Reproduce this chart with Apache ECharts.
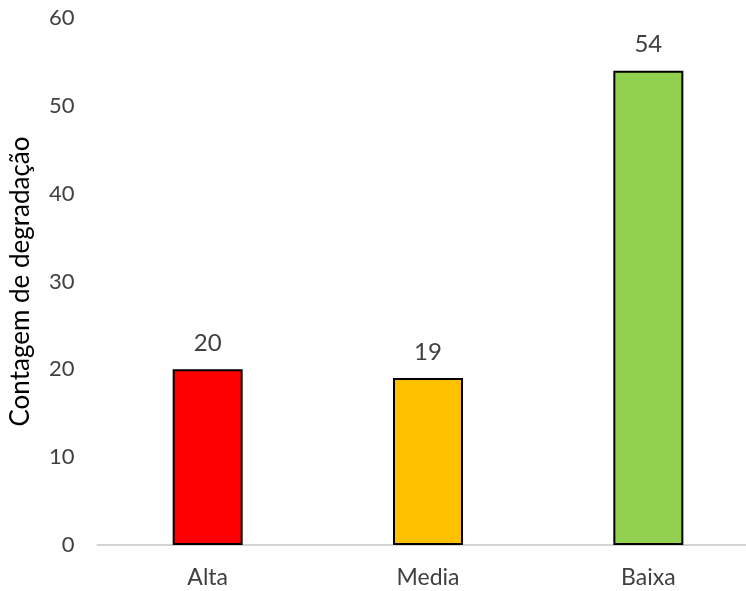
<!DOCTYPE html>
<html>
<head>
<meta charset="utf-8">
<script src="https://cdn.jsdelivr.net/npm/echarts@6/dist/echarts.min.js"></script>
<style>
  html, body { margin: 0; padding: 0; background: #fff; }
  #chart { width: 746px; height: 591px; }
</style>
</head>
<body>
<div id="chart"></div>
<script>
// Degradation counts per class
const categories = ['Alta', 'Media', 'Baixa'];
const counts = [20, 19, 54];
const barColors = ['#FF0000', '#FFC000', '#92D050'];
const yTicks = { min: 0, max: 60, interval: 10 };

const font = 'Lato, "Open Sans", sans-serif';
const textColor = '#404040';

const chart = echarts.init(document.getElementById('chart'), null, { renderer: 'canvas' });
chart.setOption({
  animation: false,
  backgroundColor: '#ffffff',
  grid: { left: 97.5, top: 18, right: -12.5, bottom: 46, containLabel: false, outerBoundsMode: 'none' },
  xAxis: {
    type: 'category',
    data: categories,
    axisLine: { show: true, lineStyle: { color: '#d4d4d4', width: 2 } },
    axisTick: { show: false },
    axisLabel: { color: textColor, fontFamily: font, fontSize: 23, margin: 21 }
  },
  yAxis: {
    type: 'value',
    min: yTicks.min,
    max: yTicks.max,
    interval: yTicks.interval,
    name: 'Contagem de degradação',
    nameLocation: 'middle',
    nameGap: 64,
    nameTextStyle: { color: '#000', fontFamily: font, fontSize: 26 },
    axisLine: { show: false },
    axisTick: { show: false },
    splitLine: { show: false },
    axisLabel: { color: textColor, fontFamily: font, fontSize: 22, margin: 23 }
  },
  series: [{
    type: 'bar',
    data: counts.map((v, i) => ({
      value: v,
      itemStyle: { color: barColors[i], borderColor: '#000', borderWidth: 2 }
    })),
    barWidth: 70,
    label: {
      show: true,
      position: 'top',
      distance: 14,
      color: textColor,
      fontFamily: font,
      fontSize: 24
    }
  }]
});
</script>
</body>
</html>
